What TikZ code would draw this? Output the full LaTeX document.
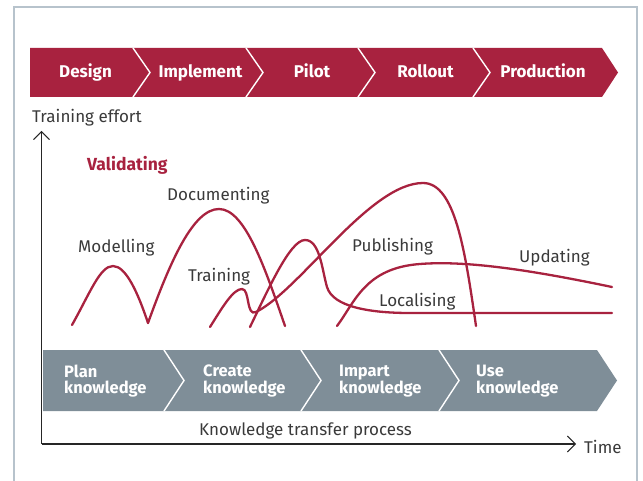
\documentclass[tikz,border=0pt]{standalone}
\usepackage{fontspec}
\setmainfont{Fira Sans}
\usetikzlibrary{arrows.meta}
\definecolor{crimson}{HTML}{A8223F}
\definecolor{slate}{HTML}{7F8E98}
\definecolor{txt}{HTML}{3A3A3A}
\definecolor{framec}{HTML}{B7C3CC}
\tikzset{
  redlbl/.style={text=white, font=\fontsize{17}{17}\selectfont\bfseries, inner sep=0pt, anchor=base},
  graylbl/.style={text=white, font=\fontsize{16.5}{16.5}\selectfont\bfseries, inner sep=0pt, anchor=west, align=left},
  lbl/.style={text=txt, font=\fontsize{17}{17}\selectfont, inner sep=0pt, anchor=base west},
  curve/.style={draw=crimson, line width=2.3pt, line cap=round},
  sepline/.style={draw=white, line width=1.4pt},
  axis/.style={draw=black!85, line width=1.1pt, -{Straight Barb[length=8pt,width=16pt,line width=0.9pt]}}
}
\begin{document}
\begin{tikzpicture}[x=1pt,y=-1pt]
\useasboundingbox (0,0) rectangle (643,481);
% frame
\draw[framec, line width=1.5pt] (14,490) -- (14,7) -- (637,7) -- (637,490);
% red phase bar
\fill[crimson] (30,48) -- (602,48) -- (618,72.5) -- (602,97) -- (30,97) -- cycle;
\foreach \x in {133,246,358,473}{
  \draw[sepline] (\x,48) -- (\x+17,72.5) -- (\x,97);
}
\node[redlbl] (design) at (85.5,78) {Design};
\node[redlbl] (implement) at (200.5,78) {Implement};
\node[redlbl] (pilot) at (312,78) {Pilot};
\node[redlbl] (rollout) at (425.5,78) {Rollout};
\node[redlbl] (production) at (543,78) {Production};
% gray knowledge bar
\fill[slate] (43,350) -- (597,350) -- (617,380.5) -- (597,411) -- (43,411) -- cycle;
\foreach \x in {164,301,439}{
  \draw[sepline] (\x,350) -- (\x+20,380.5) -- (\x,411);
}
\node[graylbl] (plan) at (64,381) {Plan\\knowledge};
\node[graylbl] (create) at (203,381) {Create\\knowledge};
\node[graylbl] (impart) at (339,381) {Impart\\knowledge};
\node[graylbl] (use) at (476,381) {Use\\knowledge};
% axes
\coordinate (origin) at (41.5,444);
\coordinate (ytip) at (41.5,131);
\coordinate (xtip) at (576,444);
\draw[axis] (origin) -- (ytip);
\draw[axis] (origin) -- (xtip);
\node[lbl] (yl) at (32,123) {Training effort};
\node[lbl] (xl) at (584,453) {Time};
\node[lbl] (ktp) at (199,435) {Knowledge transfer process};
% curves
\draw[curve] (72,325) .. controls (90,293) and (100,266) .. (113,266)
  .. controls (126,266) and (138,293) .. (148,323);
\draw[curve] (148,323) .. controls (170,262) and (193,209) .. (219,209)
  .. controls (245,209) and (265,268) .. (285,326);
\draw[curve] (210,327) .. controls (222,308) and (233,289) .. (242,289)
  .. controls (250,289) and (246,317) .. (256,312)
  .. controls (300,290) and (370,183) .. (423,183)
  .. controls (455,183) and (465,250) .. (476,326);
\draw[curve] (250,327) .. controls (268,290) and (290,240) .. (305,240)
  .. controls (320,240) and (322,270) .. (327,287)
  .. controls (333,307) and (370,313) .. (410,313) -- (612,313);
\draw[curve] (337,326) .. controls (355,302) and (365,268) .. (420,264)
  .. controls (470,260) and (540,272) .. (612,287);
% labels
\node[lbl, text=crimson, font=\fontsize{17.5}{17.5}\selectfont\bfseries] (valid) at (87,171) {Validating};
\node[lbl] (model) at (78,253) {Modelling};
\node[lbl] (doc) at (167,201) {Documenting};
\node[lbl] (train) at (188,282) {Training};
\node[lbl] (pub) at (352,252) {Publishing};
\node[lbl] (upd) at (519,263) {Updating};
\node[lbl] (loc) at (379,306) {Localising};
\end{tikzpicture}
\end{document}
